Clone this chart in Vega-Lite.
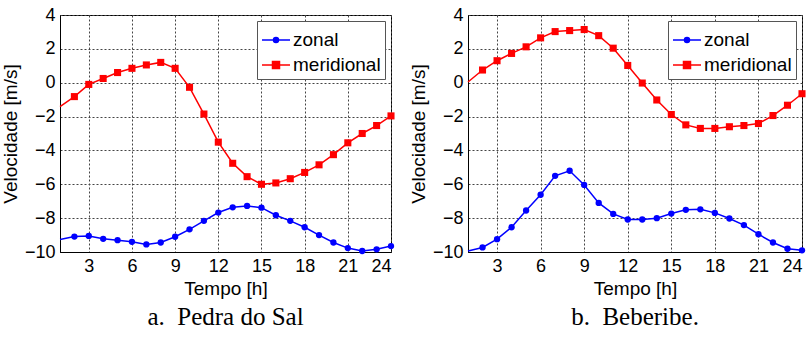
{
  "$schema": "https://vega.github.io/schema/vega-lite/v6.json",
  "background": "white",
  "padding": {"left": 0, "top": 5, "right": 6, "bottom": 5},
  "spacing": 12,
  "resolve": {
    "scale": {"x": "independent", "y": "independent", "fill": "independent", "stroke": "independent", "shape": "independent"},
    "legend": {"fill": "independent", "stroke": "independent", "shape": "independent"}
  },
  "config": {
    "view": {"stroke": "black", "strokeWidth": 1},
    "font": "Liberation Sans",
    "axis": {
      "labelFont": "Liberation Sans", "labelFontSize": 18, "labelColor": "black", "labelPadding": 5,
      "titleFont": "Liberation Sans", "titleFontSize": 19, "titleFontWeight": "normal", "titleColor": "black",
      "ticks": true, "tickSize": 0, "domainColor": "black", "domainWidth": 1
    },
    "axisY": {"titlePadding": 4},
    "axisX": {"titlePadding": 4},
    "title": {"font": "Liberation Serif", "fontSize": 25, "fontWeight": "normal", "color": "black"}
  },
  "datasets": {
    "a": [
      {"hour": 1, "zonal": -9.26, "meridional": -1.41},
      {"hour": 2, "zonal": -9.09, "meridional": -0.82},
      {"hour": 3, "zonal": -9.05, "meridional": -0.10},
      {"hour": 4, "zonal": -9.22, "meridional": 0.25},
      {"hour": 5, "zonal": -9.30, "meridional": 0.60},
      {"hour": 6, "zonal": -9.40, "meridional": 0.85},
      {"hour": 7, "zonal": -9.55, "meridional": 1.05},
      {"hour": 8, "zonal": -9.44, "meridional": 1.20},
      {"hour": 9, "zonal": -9.10, "meridional": 0.85},
      {"hour": 10, "zonal": -8.66, "meridional": -0.27},
      {"hour": 11, "zonal": -8.16, "meridional": -1.85},
      {"hour": 12, "zonal": -7.67, "meridional": -3.51},
      {"hour": 13, "zonal": -7.36, "meridional": -4.76},
      {"hour": 14, "zonal": -7.28, "meridional": -5.55},
      {"hour": 15, "zonal": -7.38, "meridional": -6.00},
      {"hour": 16, "zonal": -7.83, "meridional": -5.92},
      {"hour": 17, "zonal": -8.16, "meridional": -5.67},
      {"hour": 18, "zonal": -8.54, "meridional": -5.30},
      {"hour": 19, "zonal": -9.00, "meridional": -4.85},
      {"hour": 20, "zonal": -9.44, "meridional": -4.25},
      {"hour": 21, "zonal": -9.77, "meridional": -3.55},
      {"hour": 22, "zonal": -9.94, "meridional": -3.00},
      {"hour": 23, "zonal": -9.84, "meridional": -2.53},
      {"hour": 24, "zonal": -9.65, "meridional": -1.96}
    ],
    "b": [
      {"hour": 1, "zonal": -9.94, "meridional": 0.04},
      {"hour": 2, "zonal": -9.73, "meridional": 0.75},
      {"hour": 3, "zonal": -9.24, "meridional": 1.30},
      {"hour": 4, "zonal": -8.54, "meridional": 1.73},
      {"hour": 5, "zonal": -7.55, "meridional": 2.12},
      {"hour": 6, "zonal": -6.62, "meridional": 2.65},
      {"hour": 7, "zonal": -5.50, "meridional": 3.02},
      {"hour": 8, "zonal": -5.20, "meridional": 3.08},
      {"hour": 9, "zonal": -6.04, "meridional": 3.14},
      {"hour": 10, "zonal": -7.10, "meridional": 2.78},
      {"hour": 11, "zonal": -7.75, "meridional": 2.04},
      {"hour": 12, "zonal": -8.08, "meridional": 1.02},
      {"hour": 13, "zonal": -8.08, "meridional": -0.02},
      {"hour": 14, "zonal": -8.00, "meridional": -1.02},
      {"hour": 15, "zonal": -7.73, "meridional": -1.88},
      {"hour": 16, "zonal": -7.51, "meridional": -2.49},
      {"hour": 17, "zonal": -7.48, "meridional": -2.70},
      {"hour": 18, "zonal": -7.69, "meridional": -2.70},
      {"hour": 19, "zonal": -8.02, "meridional": -2.60},
      {"hour": 20, "zonal": -8.41, "meridional": -2.53},
      {"hour": 21, "zonal": -8.95, "meridional": -2.41},
      {"hour": 22, "zonal": -9.44, "meridional": -1.94},
      {"hour": 23, "zonal": -9.81, "meridional": -1.33},
      {"hour": 24, "zonal": -9.90, "meridional": -0.65}
    ]
  },
  "hconcat": [
    {
      "width": 331, "height": 237,
      "title": {"text": "a.\u00a0 Pedra do Sal", "orient": "bottom", "offset": 7},
      "data": {"name": "a"},
      "transform": [{"fold": ["zonal", "meridional"], "as": ["series", "v"]}],
      "encoding": {
        "x": {"field": "hour", "type": "quantitative", "scale": {"domain": [1, 24], "nice": false, "zero": false}, "axis": {"values": [3, 6, 9, 12, 15, 18, 21, 24], "title": "Tempo [h]", "grid": true, "gridColor": "#444444", "gridDash": [2, 2], "gridWidth": 1, "gridOpacity": 1}},
        "y": {"field": "v", "type": "quantitative", "scale": {"domain": [-10, 4], "nice": false, "zero": false}, "axis": {"values": [-10, -8, -6, -4, -2, 0, 2, 4], "title": "Velocidade [m/s]", "grid": true, "gridColor": "#444444", "gridDash": [2, 2], "gridWidth": 1, "gridOpacity": 1}}
      },
      "layer": [
        {"transform": [{"filter": "datum.series == 'zonal'"}], "mark": {"type": "line", "strokeWidth": 1.5, "color": "#0000ff"}},
        {"transform": [{"filter": "datum.series == 'meridional'"}], "mark": {"type": "line", "strokeWidth": 1.5, "color": "#ff0000"}},
        {"transform": [{"filter": "datum.hour >= 2 && datum.series == 'zonal'"}], "mark": {"type": "point", "shape": "circle", "filled": true, "size": 40, "color": "#0000ff", "opacity": 1}},
        {"transform": [{"filter": "datum.hour >= 2 && datum.series == 'meridional'"}], "mark": {"type": "square", "size": 50, "color": "#ff0000", "opacity": 1}},
        {"transform": [{"filter": "datum.hour > 100"}], "mark": {"type": "point", "filled": true, "opacity": 1},
         "encoding": {
           "fill": {"field": "series", "type": "nominal", "scale": {"domain": ["zonal", "meridional"], "range": ["#0000ff", "#ff0000"]}, "legend": {"title": null, "orient": "top-right", "offset": 6, "padding": 4, "strokeColor": "#555", "fillColor": "white", "symbolSize": 784, "symbolStrokeWidth": 1.5, "labelFontSize": 19, "labelFont": "Liberation Sans", "labelColor": "black", "rowPadding": -4, "labelOffset": 2, "symbolOpacity": 1}},
           "stroke": {"field": "series", "type": "nominal", "scale": {"domain": ["zonal", "meridional"], "range": ["#0000ff", "#ff0000"]}, "legend": {"title": null, "orient": "top-right", "offset": 6, "padding": 4, "strokeColor": "#555", "fillColor": "white", "symbolSize": 784, "symbolStrokeWidth": 1.5, "labelFontSize": 19, "labelFont": "Liberation Sans", "labelColor": "black", "rowPadding": -4, "labelOffset": 2, "symbolOpacity": 1}},
           "shape": {"field": "series", "type": "nominal", "scale": {"domain": ["zonal", "meridional"], "range": ["M-1,0L1,0M-0.18,0A0.18,0.18,0,1,1,0.18,0A0.18,0.18,0,1,1,-0.18,0Z", "M-1,0L1,0M-0.25,-0.25L0.25,-0.25L0.25,0.25L-0.25,0.25Z"]}, "legend": {"title": null, "orient": "top-right", "offset": 6, "padding": 4, "strokeColor": "#555", "fillColor": "white", "symbolSize": 784, "symbolStrokeWidth": 1.5, "labelFontSize": 19, "labelFont": "Liberation Sans", "labelColor": "black", "rowPadding": -4, "labelOffset": 2, "symbolOpacity": 1}}
         }}
      ]
    },
    {
      "width": 334, "height": 237,
      "title": {"text": "b.\u00a0 Beberibe.", "orient": "bottom", "offset": 7},
      "data": {"name": "b"},
      "transform": [{"fold": ["zonal", "meridional"], "as": ["series", "v"]}],
      "encoding": {
        "x": {"field": "hour", "type": "quantitative", "scale": {"domain": [1, 24], "nice": false, "zero": false}, "axis": {"values": [3, 6, 9, 12, 15, 18, 21, 24], "title": "Tempo [h]", "grid": true, "gridColor": "#444444", "gridDash": [2, 2], "gridWidth": 1, "gridOpacity": 1}},
        "y": {"field": "v", "type": "quantitative", "scale": {"domain": [-10, 4], "nice": false, "zero": false}, "axis": {"values": [-10, -8, -6, -4, -2, 0, 2, 4], "title": "Velocidade [m/s]", "grid": true, "gridColor": "#444444", "gridDash": [2, 2], "gridWidth": 1, "gridOpacity": 1}}
      },
      "layer": [
        {"transform": [{"filter": "datum.series == 'zonal'"}], "mark": {"type": "line", "strokeWidth": 1.5, "color": "#0000ff"}},
        {"transform": [{"filter": "datum.series == 'meridional'"}], "mark": {"type": "line", "strokeWidth": 1.5, "color": "#ff0000"}},
        {"transform": [{"filter": "datum.hour >= 2 && datum.series == 'zonal'"}], "mark": {"type": "point", "shape": "circle", "filled": true, "size": 40, "color": "#0000ff", "opacity": 1}},
        {"transform": [{"filter": "datum.hour >= 2 && datum.series == 'meridional'"}], "mark": {"type": "square", "size": 50, "color": "#ff0000", "opacity": 1}},
        {"transform": [{"filter": "datum.hour > 100"}], "mark": {"type": "point", "filled": true, "opacity": 1},
         "encoding": {
           "fill": {"field": "series", "type": "nominal", "scale": {"domain": ["zonal", "meridional"], "range": ["#0000ff", "#ff0000"]}, "legend": {"title": null, "orient": "top-right", "offset": 6, "padding": 4, "strokeColor": "#555", "fillColor": "white", "symbolSize": 784, "symbolStrokeWidth": 1.5, "labelFontSize": 19, "labelFont": "Liberation Sans", "labelColor": "black", "rowPadding": -4, "labelOffset": 2, "symbolOpacity": 1}},
           "stroke": {"field": "series", "type": "nominal", "scale": {"domain": ["zonal", "meridional"], "range": ["#0000ff", "#ff0000"]}, "legend": {"title": null, "orient": "top-right", "offset": 6, "padding": 4, "strokeColor": "#555", "fillColor": "white", "symbolSize": 784, "symbolStrokeWidth": 1.5, "labelFontSize": 19, "labelFont": "Liberation Sans", "labelColor": "black", "rowPadding": -4, "labelOffset": 2, "symbolOpacity": 1}},
           "shape": {"field": "series", "type": "nominal", "scale": {"domain": ["zonal", "meridional"], "range": ["M-1,0L1,0M-0.18,0A0.18,0.18,0,1,1,0.18,0A0.18,0.18,0,1,1,-0.18,0Z", "M-1,0L1,0M-0.25,-0.25L0.25,-0.25L0.25,0.25L-0.25,0.25Z"]}, "legend": {"title": null, "orient": "top-right", "offset": 6, "padding": 4, "strokeColor": "#555", "fillColor": "white", "symbolSize": 784, "symbolStrokeWidth": 1.5, "labelFontSize": 19, "labelFont": "Liberation Sans", "labelColor": "black", "rowPadding": -4, "labelOffset": 2, "symbolOpacity": 1}}
         }}
      ]
    }
  ]
}
